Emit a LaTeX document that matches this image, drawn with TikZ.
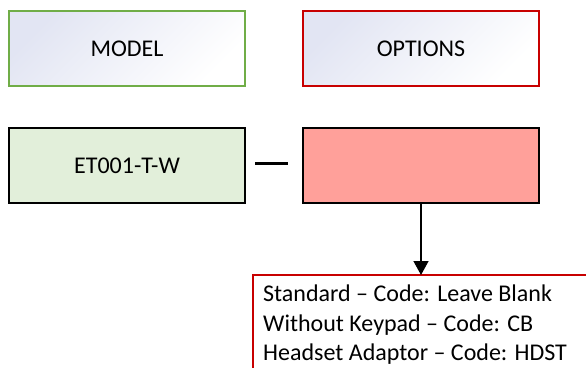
\documentclass[tikz,border=0pt]{standalone}
\usepackage{fontspec}
\setmainfont{Carlito}
\usetikzlibrary{arrows.meta}
\definecolor{mgreen}{RGB}{112,173,71}
\definecolor{mred}{RGB}{200,0,0}
\definecolor{lgreen}{RGB}{226,239,218}
\definecolor{salmon}{RGB}{255,160,154}
\definecolor{lav}{RGB}{226,229,243}
\begin{document}
\begin{tikzpicture}[x=1pt,y=-1pt,font=\fontsize{24}{29.3}\selectfont]
\tikzset{
  box/.style={minimum width=236pt,minimum height=75pt,inner sep=0pt,line width=1.6pt},
  hdr/.style={box,top color=lav,bottom color=white,shading angle=45},
  link/.style={line width=1.4pt,black},
}
\useasboundingbox (0,0) rectangle (586,367);
\node[hdr,draw=mgreen] (model) at (127,48.5) {MODEL};
\node[hdr,draw=mred] (options) at (421,48.5) {OPTIONS};
\node[box,draw=black,fill=lgreen] (code) at (127,165.5) {ET001-T-W};
\node[box,draw=black,fill=salmon] (opt) at (421,165.5) {};
\coordinate (d1) at (255,163.5);
\coordinate (d2) at (288,163.5);
\draw[line width=2.2pt] (d1) -- (d2);
\node[anchor=north west,align=left,inner xsep=10pt,inner ysep=10pt] (list) at (253,275)
  {Standard – Code: Leave Blank\\Without Keypad – Code: CB\\Headset Adaptor – Code: HDST};
\draw[mred,line width=1.3pt] (list.north west) rectangle (700,420);
\draw[link,-{Triangle[width=15pt,length=14pt]}] (opt.south) -- (opt.south |- list.north);
\end{tikzpicture}
\end{document}
